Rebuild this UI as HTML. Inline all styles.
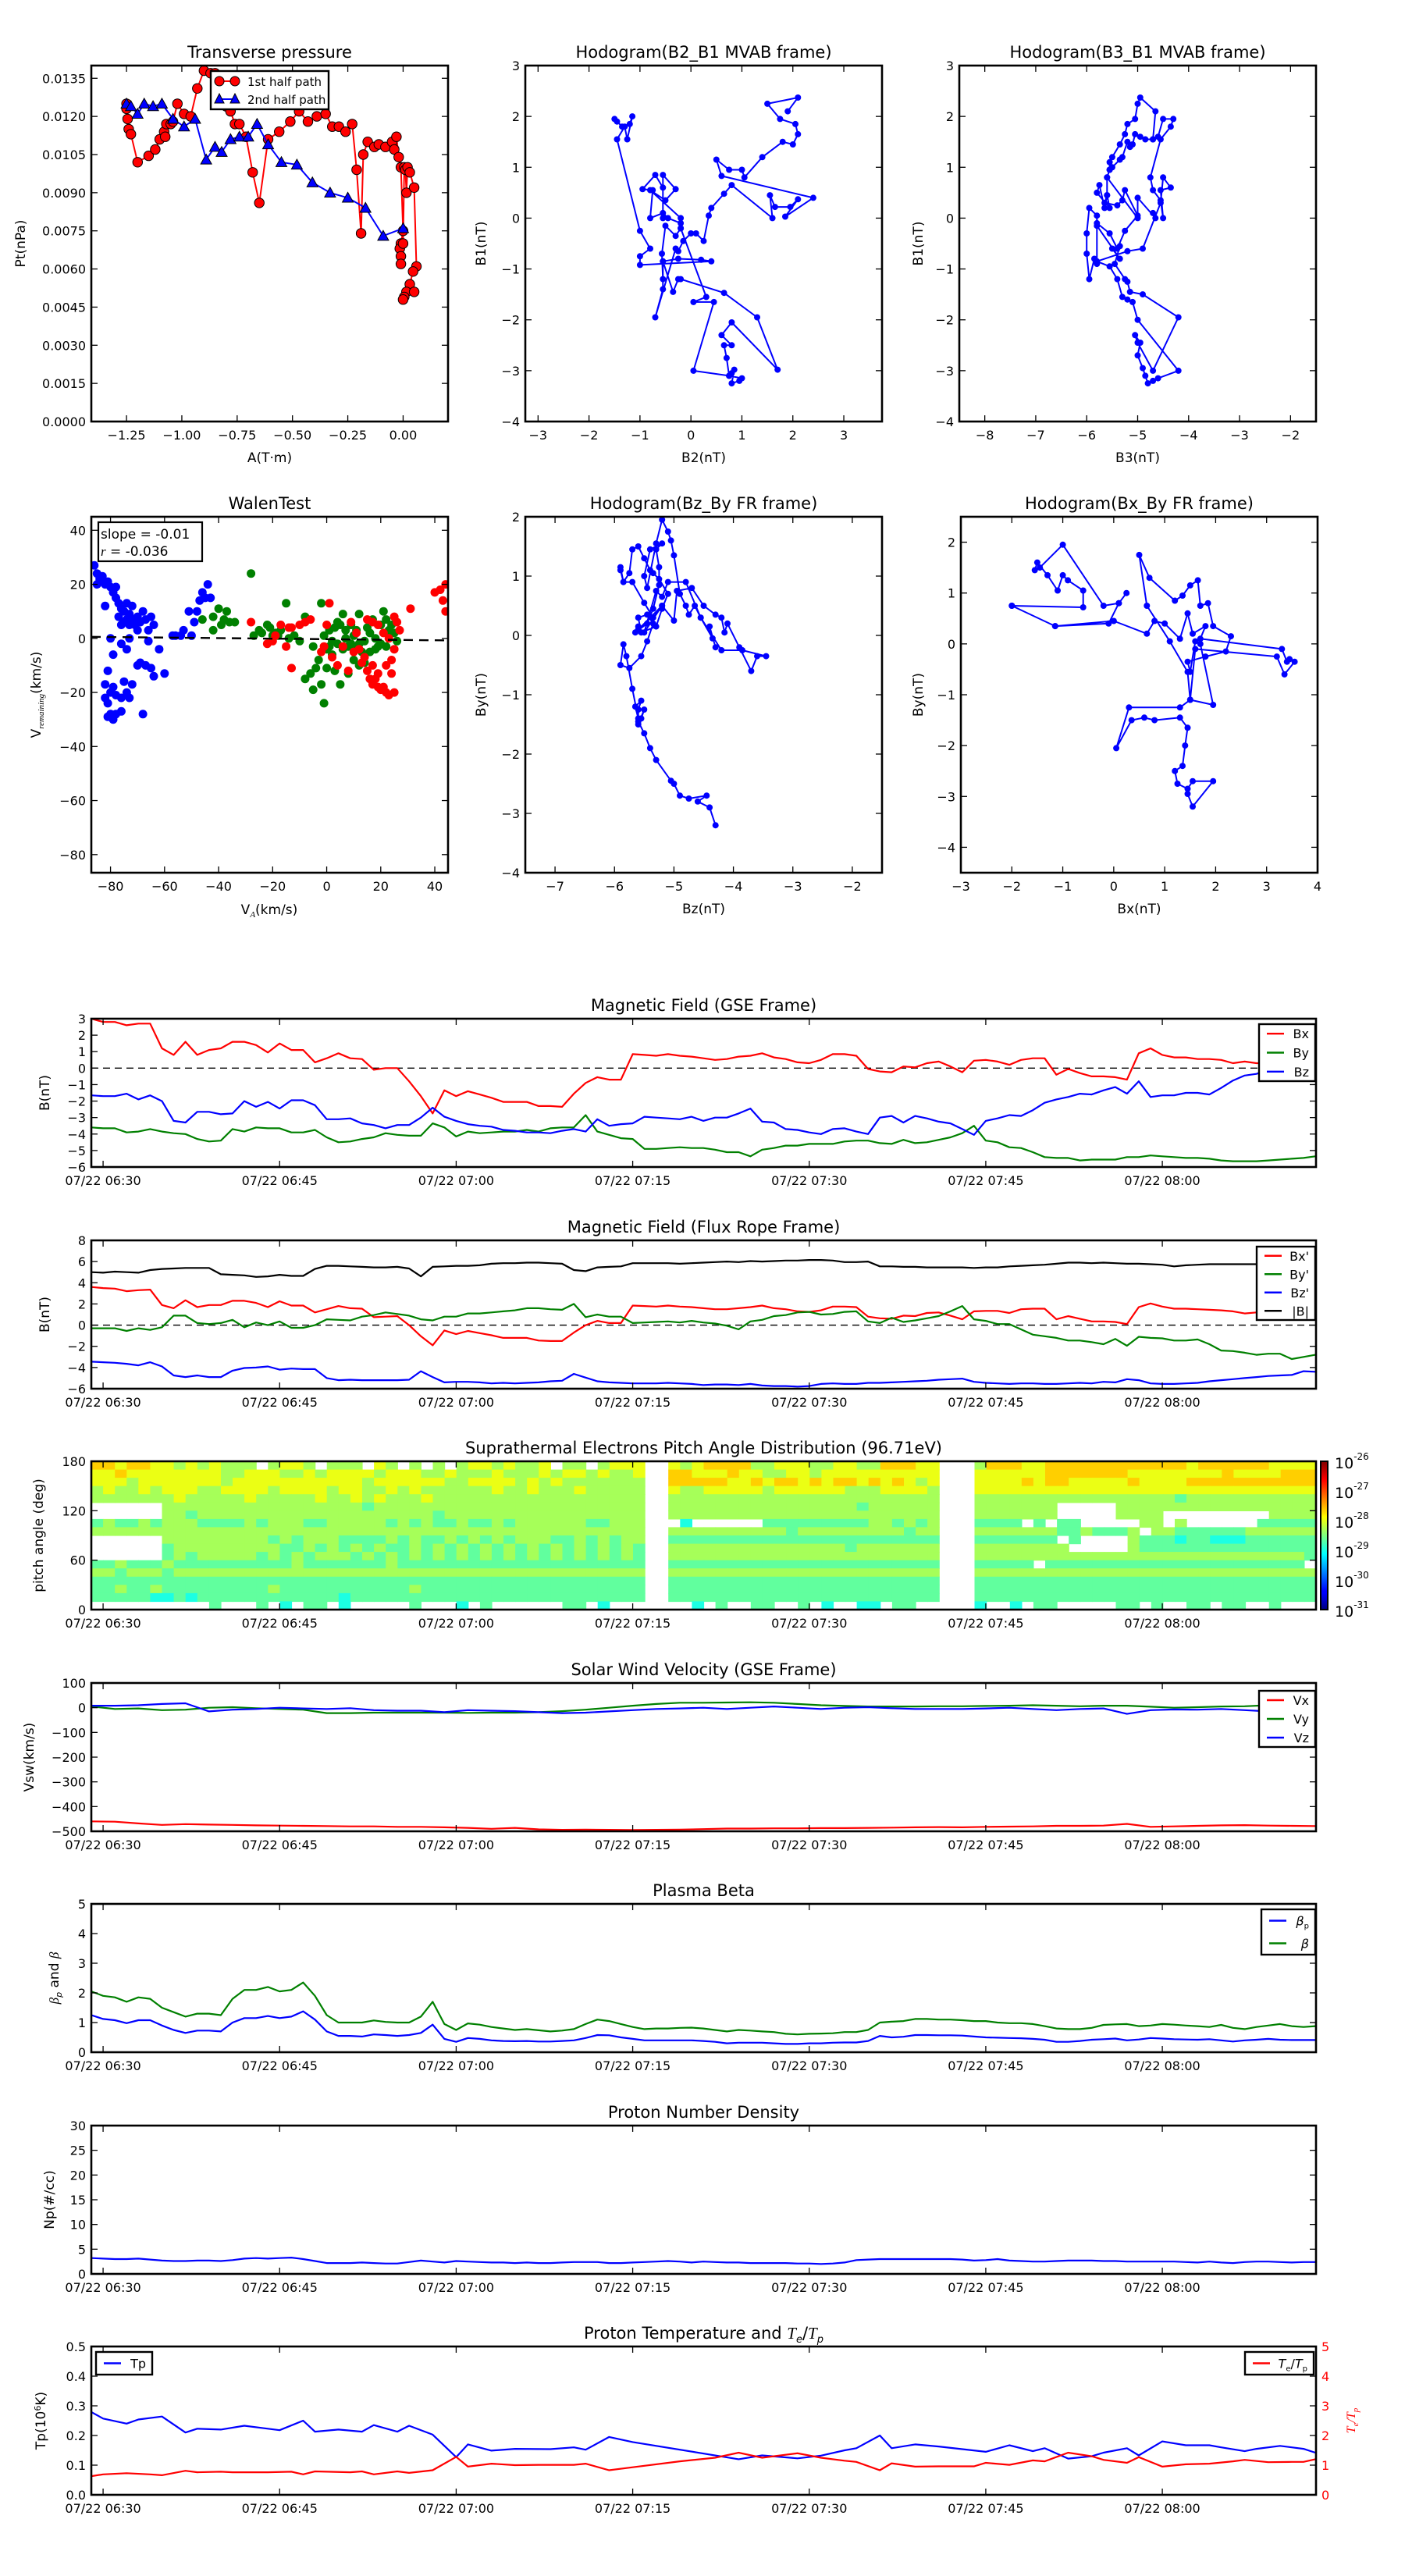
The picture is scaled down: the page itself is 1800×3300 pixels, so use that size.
<!DOCTYPE html>
<html><head><meta charset="utf-8">
<style>
html,body{margin:0;padding:0;background:#fff;}
svg{display:block;font-family:"DejaVu Sans","Liberation Sans",sans-serif;}
</style></head>
<body>
<svg id="fig" xmlns="http://www.w3.org/2000/svg" width="1800" height="3300" viewBox="0 0 1800 3300">
<rect x="0" y="0" width="1800" height="3300" fill="#fff"/>
<defs>
<linearGradient id="jet" x1="0" y1="1" x2="0" y2="0">
<stop offset="0" stop-color="#00007f"/><stop offset="0.11" stop-color="#0000ff"/><stop offset="0.125" stop-color="#0000ff"/>
<stop offset="0.34" stop-color="#00dcff"/><stop offset="0.375" stop-color="#00ffff"/><stop offset="0.5" stop-color="#80ff80"/>
<stop offset="0.625" stop-color="#ffff00"/><stop offset="0.66" stop-color="#ffd800"/><stop offset="0.875" stop-color="#ff0000"/><stop offset="1" stop-color="#7f0000"/>
</linearGradient>
</defs>
</svg>
<script>
// ---------------- DATA ----------------
// Transverse pressure
const tpA1=[-1.25,-1.25,-1.245,-1.24,-1.23,-1.20,-1.15,-1.12,-1.10,-1.08,-1.075,-1.07,-1.05,-1.04,-1.02,-0.99,-0.96,-0.93,-0.90,-0.87,-0.85,-0.80,-0.78,-0.76,-0.74,-0.71,-0.68,-0.65,-0.61,-0.56,-0.51,-0.47,-0.43,-0.39,-0.35,-0.32,-0.29,-0.26,-0.23,-0.21,-0.19,-0.18,-0.16,-0.13,-0.11,-0.08,-0.05,-0.04,-0.03,-0.02,-0.01,0.0,-0.01,-0.015,-0.01,-0.01,0.0,0.005,0.01,0.015,0.02,0.03,0.05,0.06,0.045,0.03,0.015,0.005,0.0,0.05];
const tpP1=[0.0125,0.0123,0.0119,0.0115,0.0113,0.0102,0.01045,0.0107,0.0111,0.0114,0.0112,0.0117,0.0117,0.0118,0.0125,0.0121,0.0120,0.0131,0.0138,0.0137,0.0137,0.0124,0.0122,0.0117,0.0117,0.0112,0.0098,0.0086,0.0111,0.0114,0.0118,0.0122,0.0118,0.0120,0.0121,0.0116,0.0116,0.0114,0.0117,0.0099,0.0074,0.0105,0.0110,0.0108,0.0109,0.0108,0.0110,0.0107,0.0112,0.0104,0.0100,0.0075,0.0070,0.0068,0.0065,0.0062,0.0070,0.0100,0.0099,0.0090,0.0100,0.0098,0.0092,0.0061,0.0059,0.0054,0.0051,0.0049,0.0048,0.0051];
const tpA2=[-1.25,-1.23,-1.20,-1.17,-1.13,-1.09,-1.04,-0.99,-0.94,-0.89,-0.85,-0.82,-0.78,-0.74,-0.70,-0.66,-0.61,-0.55,-0.48,-0.41,-0.33,-0.25,-0.17,-0.09,0.0];
const tpP2=[0.0125,0.0124,0.0121,0.0125,0.0124,0.0125,0.0119,0.0116,0.0119,0.0103,0.0108,0.0106,0.0111,0.0112,0.0112,0.0117,0.0109,0.0102,0.0101,0.0094,0.0090,0.0088,0.0084,0.0073,0.0076];
// Hodograms
const h1x=[-1.5,-1.45,-1.35,-1.2,-1.15,-1.25,-1.3,-1.45,-1.0,-0.8,-1.0,-1.0,0.4,0.2,-0.25,-0.55,-0.55,-0.57,-0.5,-0.3,-0.2,-0.2,-0.45,-0.55,-0.8,-0.75,-0.95,-0.7,-0.55,-0.55,-0.55,-0.3,-0.5,-0.8,-0.2,-0.2,0.3,0.05,0.45,0.05,0.75,0.8,0.85,0.8,0.95,1.0,0.75,0.7,0.65,0.8,0.6,0.8,1.7,1.3,0.65,-0.2,-0.25,-0.35,-0.55,-0.55,-0.7,-0.3,-0.25,-0.15,0.0,0.1,0.25,0.35,0.4,0.65,0.8,1.6,1.55,1.65,1.95,2.1,1.85,2.4,0.6,0.5,0.75,1.0,1.05,1.4,1.8,2.0,2.1,2.05,1.75,1.5,2.1,1.9];
const h1y=[1.95,1.9,1.8,1.85,2.0,1.55,1.8,1.55,-0.25,-0.6,-0.75,-0.92,-0.85,-0.82,-0.8,-0.85,-1.2,-0.7,-0.15,-0.35,-0.2,-0.1,0.0,0.1,0.0,0.55,0.57,0.85,0.6,0.0,0.85,0.57,0.35,0.55,0.0,-0.2,-1.55,-1.65,-1.65,-3.0,-3.1,-3.05,-2.98,-3.25,-3.2,-3.15,-3.1,-2.75,-2.5,-2.5,-2.3,-2.05,-2.98,-1.95,-1.47,-1.2,-1.2,-1.45,-0.85,-1.4,-1.95,-0.6,-0.65,-0.45,-0.3,-0.3,-0.45,0.05,0.2,0.48,0.65,0.0,0.45,0.22,0.22,0.37,0.03,0.4,0.83,1.15,0.95,0.95,0.8,1.2,1.5,1.45,1.65,1.85,1.95,2.25,2.37,2.1];
const h2x=[-4.7,-4.85,-4.95,-5.05,-5.1,-5.15,-5.2,-5.3,-5.35,-5.5,-5.55,-5.6,-5.6,-5.65,-5.75,-5.8,-5.55,-5.6,-5.65,-5.4,-5.3,-5.25,-5.0,-5.25,-5.4,-5.55,-5.8,-5.8,-5.95,-6.0,-6.0,-5.95,-5.85,-5.8,-5.8,-5.35,-5.5,-5.35,-5.45,-5.25,-5.2,-5.15,-4.9,-4.2,-4.7,-5.0,-5.05,-4.95,-5.0,-4.9,-4.85,-4.8,-4.7,-4.6,-4.2,-5.0,-5.1,-5.2,-5.3,-5.4,-5.55,-5.8,-5.2,-4.9,-4.55,-4.5,-4.35,-4.55,-4.5,-4.55,-4.7,-4.75,-4.55,-4.35,-4.3,-4.5,-4.6,-4.7,-4.65,-4.95,-5.0,-5.05,-5.2,-5.25,-5.35,-5.5,-5.55,-5.55,-5.6,-5.0,-5.0,-4.65,-4.7];
const h2y=[1.55,1.55,1.6,1.65,1.45,1.4,1.5,1.2,1.15,1.0,0.95,0.8,0.45,0.2,0.65,0.5,0.2,0.45,0.3,0.25,0.35,0.55,0.05,-0.25,-0.6,-0.3,-0.1,0.05,0.2,-0.3,-0.7,-1.2,-0.8,-0.9,-0.15,-0.8,-0.6,-0.55,-0.9,-1.2,-1.25,-1.45,-1.5,-1.95,-3.0,-2.45,-2.3,-2.45,-2.7,-2.95,-3.1,-3.25,-3.2,-3.15,-3.0,-2.0,-1.65,-1.6,-1.55,-1.2,-0.95,-0.85,-0.65,-0.6,0.3,0.8,0.6,0.55,0.0,0.35,0.55,0.8,1.55,1.8,1.95,1.95,1.6,1.55,2.1,2.37,2.25,1.95,1.85,1.65,1.45,1.2,1.1,0.95,0.8,0.0,0.4,0.0,0.1];
const h3x=[-4.3,-4.4,-4.6,-4.45,-4.75,-4.9,-5.0,-5.05,-5.3,-5.4,-5.5,-5.6,-5.55,-5.5,-5.6,-5.6,-5.55,-5.65,-5.6,-5.7,-5.8,-5.85,-5.9,-5.75,-5.55,-5.45,-5.35,-5.45,-5.6,-5.55,-5.3,-5.2,-5.1,-5.25,-5.35,-5.4,-5.5,-5.6,-5.7,-5.75,-5.85,-5.9,-5.9,-5.85,-5.7,-5.5,-5.35,-5.2,-5.0,-4.95,-4.7,-4.5,-4.3,-4.2,-4.15,-4.1,-3.9,-3.7,-3.6,-3.45,-3.85,-4.2,-4.55,-4.8,-5.1,-5.2,-5.3,-5.5,-5.2,-5.6,-5.6,-5.65,-5.45,-5.35,-5.25,-5.25,-5.3,-5.2,-5.4,-5.5,-5.45,-5.3,-5.2,-5.1,-5.05,-5.0,-4.9,-4.8,-4.75,-4.65,-4.55,-4.35,-4.4,-4.3];
const h3y=[-3.2,-2.9,-2.8,-2.7,-2.75,-2.7,-2.5,-2.45,-2.1,-1.9,-1.65,-1.45,-1.4,-1.25,-1.5,-1.25,-1.1,-1.2,-1.4,-0.9,-0.35,-0.15,-0.5,-0.55,-0.35,-0.1,0.2,0.35,0.3,0.05,0.15,0.45,0.7,0.95,1.05,1.1,1.3,1.5,1.45,1.05,0.9,1.1,1.15,0.9,0.9,0.55,0.3,0.5,0.25,0.75,0.8,0.5,0.35,0.3,0.05,0.2,-0.2,-0.6,-0.35,-0.35,-0.25,-0.25,0.3,0.9,0.9,0.65,0.75,0.05,0.5,0.1,0.15,0.05,0.2,0.45,0.85,1.15,1.45,1.55,1.45,1.0,0.8,1.55,1.95,1.75,1.6,1.35,0.7,0.5,0.35,0.5,0.3,-0.05,0.15,-0.2];
const h4x=[-2.0,-0.6,-0.6,-0.9,-1.0,-1.1,-1.3,-1.5,-1.55,-1.45,-1.0,-0.2,0.1,0.25,0.1,-0.1,-1.15,-2.0,-1.15,0.0,0.65,0.8,1.0,1.3,1.45,1.55,1.8,1.7,3.3,3.4,3.45,3.55,3.35,3.2,1.6,1.5,1.45,1.1,0.65,0.5,0.7,1.2,1.35,1.5,1.65,1.7,1.85,1.95,2.3,2.2,1.8,1.45,1.5,1.6,1.7,1.95,1.5,1.3,0.3,0.05,0.35,0.6,0.8,1.3,1.45,1.4,1.35,1.2,1.25,1.45,1.55,1.95,1.55,1.45];
const h4y=[0.75,0.72,1.05,1.25,1.35,1.05,1.35,1.6,1.45,1.5,1.95,0.75,0.8,1.0,0.8,0.4,0.35,0.75,0.35,0.45,0.2,0.45,0.4,0.1,0.6,0.2,0.35,0.1,-0.1,-0.35,-0.3,-0.35,-0.6,-0.25,-0.1,-1.1,-0.55,0.05,0.75,1.75,1.3,0.85,0.95,1.15,1.25,0.75,0.8,0.35,0.15,-0.15,-0.25,-0.35,-0.55,0.05,0.0,-1.2,-1.1,-1.25,-1.25,-2.05,-1.5,-1.45,-1.5,-1.45,-1.65,-2.0,-2.4,-2.5,-2.75,-2.85,-2.7,-2.7,-3.2,-2.95];
// Walen test
const wBx=[-86,-85,-85,-84,-83,-82,-82,-81,-80,-79,-78,-78,-77,-77,-76,-76,-75,-75,-74,-74,-73,-73,-72,-72,-71,-70,-70,-69,-68,-67,-66,-65,-64,-80,-76,-73,-74,-79,-81,-82,-80,-79,-82,-78,-76,-81,-80,-78,-81,-79,-76,-73,-75,-72,-70,-69,-67,-65,-64,-62,-60,-68,-56,-53,-50,-51,-48,-49,-47,-46,-44,-45,-43,-54,-66,-74,-57];
const wBy=[27,24,20,22,23,12,20,21,19,17,15,19,13,8,11,5,10,6,7,13,9,5,7,12,5,8,3,6,10,7,3,8,5,0,-2,0,-4,-6,-12,-17,-20,-18,-22,-21,-22,-24,-28,-28,-29,-30,-27,-22,-16,-17,-10,-9,-10,-11,-14,-4,-13,-28,1,3,1,10,10,6,14,17,20,15,15,1,-1,-20,1];
const wGx=[-28,-40,-42,-39,-38,-36,-42,-34,-27,-25,-24,-22,-21,-20,-18,-15,-17,-14,-12,-10,-8,-5,-2,0,1,2,3,4,5,6,7,8,9,10,11,12,13,14,12,15,16,18,19,20,21,22,23,24,25,26,-6,-4,-2,0,-8,-5,-1,5,8,10,12,14,3,16,18,2,-3,6,20,22,-1,1,4,7,11,17,9,-46,-37,-19];
const wGy=[24,11,8,5,7,6,3,6,1,3,2,5,4,1,1,13,3,0,1,-1,8,-3,13,-4,3,-1,4,-2,5,9,0,-3,5,1,3,-2,-5,-1,9,4,2,0,-3,5,10,7,3,5,2,-1,-13,-11,-17,-11,-15,-19,-24,-17,-13,-8,-10,-9,-12,-5,-4,-6,-8,-4,-2,-3,1,-3,6,3,-4,7,-2,7,10,2];
const wRx=[-28,-22,-20,-19,-17,-15,-13,-8,-6,0,1,-13,2,4,6,8,10,13,15,16,17,18,19,20,21,22,23,25,24,24,25,23,21,19,17,15,26,27,25,31,40,42,43,44,44,22,19,17,14,12,11,9,-10,-14,-2,-1];
const wRy=[6,-2,-1,1,5,-3,4,6,7,5,13,-11,-7,-10,-3,-12,-5,-9,-12,-15,-17,-15,-18,-19,-18,-20,-21,-20,-13,-8,-4,0,2,5,6,7,6,3,8,11,17,18,14,20,10,-10,-13,-10,-7,-4,2,6,5,4,-5,-3];
const walenSlope=-0.01, walenIcpt=-0.3;
// Time series (1-min cadence, first sample at t=-1 min from 06:30)
const timeTicks=[0,15,30,45,60,75,90];
const timeLabels=['07/22 06:30','07/22 06:45','07/22 07:00','07/22 07:15','07/22 07:30','07/22 07:45','07/22 08:00'];
const gseBx=[3.0,2.8,2.8,2.6,2.7,2.7,1.2,0.8,1.6,0.8,1.1,1.2,1.6,1.6,1.4,0.95,1.5,1.1,1.1,0.35,0.6,0.9,0.6,0.55,-0.1,0.0,0.0,-0.8,-1.7,-2.75,-1.35,-1.7,-1.4,-1.6,-1.8,-2.05,-2.05,-2.05,-2.3,-2.3,-2.35,-1.55,-0.9,-0.55,-0.7,-0.7,0.85,0.8,0.75,0.85,0.75,0.7,0.6,0.5,0.55,0.7,0.75,0.9,0.65,0.55,0.35,0.3,0.5,0.85,0.85,0.75,-0.05,-0.2,-0.25,0.1,0.05,0.3,0.4,0.1,-0.25,0.45,0.5,0.4,0.2,0.5,0.6,0.6,-0.4,-0.05,-0.3,-0.5,-0.5,-0.55,-0.7,0.9,1.2,0.8,0.65,0.65,0.55,0.55,0.5,0.3,0.4,0.3,0.3,0.5,0.7,0.8,0.8];
const gseBy=[-3.6,-3.65,-3.65,-3.9,-3.85,-3.7,-3.85,-3.95,-4.0,-4.3,-4.45,-4.4,-3.7,-3.85,-3.6,-3.65,-3.65,-3.9,-3.9,-3.75,-4.2,-4.5,-4.45,-4.3,-4.2,-3.95,-4.05,-4.1,-4.1,-3.35,-3.6,-4.15,-3.85,-3.95,-3.9,-3.85,-3.85,-3.75,-3.85,-3.65,-3.6,-3.6,-2.85,-3.85,-4.05,-4.25,-4.3,-4.9,-4.9,-4.85,-4.8,-4.85,-4.85,-4.95,-5.1,-5.1,-5.35,-4.95,-4.85,-4.7,-4.7,-4.6,-4.6,-4.6,-4.45,-4.4,-4.4,-4.55,-4.6,-4.35,-4.55,-4.5,-4.35,-4.2,-3.95,-3.5,-4.4,-4.5,-4.8,-4.85,-5.1,-5.4,-5.45,-5.45,-5.6,-5.55,-5.55,-5.55,-5.4,-5.4,-5.3,-5.35,-5.4,-5.45,-5.45,-5.5,-5.6,-5.65,-5.65,-5.65,-5.6,-5.55,-5.5,-5.45,-5.35];
const gseBz=[-1.65,-1.7,-1.7,-1.55,-1.9,-1.65,-2.0,-3.2,-3.3,-2.65,-2.65,-2.8,-2.75,-2.0,-2.35,-2.05,-2.45,-1.95,-1.95,-2.25,-3.1,-3.1,-3.05,-3.35,-3.45,-3.65,-3.45,-3.45,-3.0,-2.4,-2.95,-3.2,-3.4,-3.5,-3.55,-3.75,-3.8,-3.9,-3.9,-3.95,-3.8,-3.7,-3.85,-3.1,-3.5,-3.4,-3.35,-2.95,-3.0,-3.05,-3.1,-2.95,-3.2,-3.0,-3.0,-2.75,-2.45,-3.25,-3.3,-3.7,-3.75,-3.9,-4.0,-3.7,-3.65,-3.85,-4.0,-3.0,-2.9,-3.3,-2.9,-3.05,-3.25,-3.35,-3.7,-4.05,-3.2,-3.05,-2.85,-2.9,-2.55,-2.1,-1.9,-1.75,-1.55,-1.6,-1.35,-1.15,-1.55,-0.8,-1.75,-1.65,-1.65,-1.5,-1.5,-1.6,-1.2,-0.75,-0.45,-0.35,-0.1,0.0,0.1,0.2,0.3];
const frBx=[3.6,3.5,3.45,3.2,3.3,3.35,1.9,1.6,2.35,1.7,1.9,1.9,2.3,2.3,2.1,1.7,2.25,1.85,1.85,1.2,1.5,1.8,1.6,1.55,0.75,0.8,0.85,0.0,-1.05,-1.9,-0.5,-0.85,-0.55,-0.75,-0.95,-1.2,-1.2,-1.2,-1.45,-1.5,-1.5,-0.7,0.0,0.4,0.2,0.2,1.85,1.8,1.75,1.85,1.75,1.7,1.6,1.5,1.5,1.6,1.7,1.85,1.6,1.5,1.3,1.25,1.4,1.75,1.75,1.7,0.8,0.65,0.6,0.9,0.85,1.15,1.2,0.9,0.55,1.3,1.35,1.35,1.15,1.5,1.55,1.55,0.55,0.85,0.6,0.35,0.35,0.3,0.1,1.7,2.05,1.75,1.55,1.55,1.5,1.45,1.4,1.3,1.1,1.2,1.3,1.5,1.5,1.55,1.6];
const frBy=[-0.3,-0.3,-0.3,-0.55,-0.3,-0.45,-0.2,0.9,0.9,0.2,0.1,0.2,0.5,-0.2,0.25,0.0,0.35,-0.25,-0.25,0.0,0.55,0.5,0.45,0.8,0.95,1.2,1.05,0.9,0.55,0.45,0.8,0.8,1.1,1.1,1.2,1.3,1.4,1.6,1.6,1.5,1.45,2.0,0.75,1.0,0.8,0.8,0.2,0.25,0.3,0.35,0.25,0.4,0.25,0.15,-0.05,-0.4,0.35,0.5,0.85,0.95,1.2,1.25,1.0,1.05,1.25,1.3,0.35,0.2,0.7,0.3,0.45,0.65,0.85,1.3,1.8,0.55,0.4,0.1,0.1,-0.4,-0.9,-1.05,-1.2,-1.45,-1.45,-1.6,-1.8,-1.3,-1.95,-1.1,-1.2,-1.25,-1.45,-1.45,-1.35,-1.8,-2.4,-2.45,-2.6,-2.8,-2.7,-2.7,-3.2,-3.0,-2.8];
const frBz=[-3.45,-3.5,-3.55,-3.65,-3.8,-3.5,-3.9,-4.75,-4.9,-4.75,-4.9,-4.9,-4.3,-4.05,-4.0,-3.9,-4.2,-4.1,-4.15,-4.15,-5.0,-5.2,-5.15,-5.2,-5.2,-5.2,-5.2,-5.15,-4.35,-4.9,-5.4,-5.35,-5.35,-5.4,-5.5,-5.45,-5.5,-5.45,-5.4,-5.3,-5.25,-4.6,-4.95,-5.3,-5.4,-5.45,-5.5,-5.5,-5.5,-5.45,-5.5,-5.55,-5.65,-5.6,-5.6,-5.65,-5.55,-5.7,-5.75,-5.75,-5.8,-5.75,-5.55,-5.5,-5.55,-5.55,-5.45,-5.45,-5.4,-5.35,-5.3,-5.25,-5.15,-5.1,-5.05,-5.35,-5.45,-5.5,-5.55,-5.5,-5.5,-5.55,-5.55,-5.5,-5.45,-5.5,-5.35,-5.4,-5.1,-5.2,-5.5,-5.55,-5.55,-5.5,-5.45,-5.3,-5.2,-5.1,-5.0,-4.9,-4.8,-4.75,-4.7,-4.35,-4.4];
const frBt=[5.0,4.95,5.05,5.0,4.95,5.2,5.3,5.35,5.4,5.4,5.4,4.8,4.75,4.7,4.55,4.6,4.75,4.65,4.65,5.3,5.6,5.6,5.55,5.5,5.45,5.45,5.5,5.35,4.6,5.5,5.55,5.6,5.6,5.65,5.8,5.85,5.85,5.9,5.9,5.85,5.8,5.2,5.1,5.45,5.5,5.55,5.85,5.85,5.85,5.85,5.8,5.85,5.9,5.95,6.0,5.95,6.05,6.0,6.05,6.1,6.1,6.15,6.15,6.1,5.95,5.95,6.0,5.55,5.55,5.5,5.5,5.45,5.45,5.45,5.45,5.4,5.45,5.45,5.55,5.6,5.65,5.7,5.8,5.9,5.9,5.85,5.9,5.85,5.8,5.8,5.75,5.7,5.55,5.65,5.7,5.75,5.75,5.75,5.75,5.75,5.75,5.75,5.75,5.75,5.7,5.65,5.55];
// Solar wind velocity (2-min cadence from t=-1)
const vx=[-460,-461,-468,-474,-471,-473,-474,-476,-477,-478,-479,-480,-480,-482,-482,-484,-486,-490,-486,-492,-494,-493,-494,-495,-494,-493,-491,-489,-489,-488,-488,-487,-487,-486,-485,-484,-483,-484,-482,-481,-480,-478,-478,-477,-470,-482,-480,-478,-476,-475,-477,-478,-479];
const vy=[5,-5,-3,-10,-8,0,2,-2,-5,-8,-22,-22,-20,-20,-20,-20,-21,-20,-20,-18,-14,-8,0,8,15,20,20,21,22,20,15,10,7,5,5,5,6,6,7,8,10,8,6,8,8,4,0,2,5,6,10,12,-5];
const vz=[8,8,10,15,18,-15,-8,-5,0,-3,-5,-2,-10,-12,-12,-18,-10,-12,-14,-18,-22,-20,-15,-10,-5,-3,0,-5,0,5,0,-5,0,2,-2,-5,-5,-5,-3,0,-5,-10,-5,-3,-25,-10,-7,-8,-5,-10,-15,-10,-15];
// Plasma beta (1-min)
const betaTot=[2.05,1.9,1.85,1.7,1.85,1.8,1.5,1.35,1.2,1.3,1.3,1.25,1.8,2.1,2.1,2.2,2.05,2.1,2.35,1.9,1.25,1.0,1.0,1.0,1.07,1.02,1.0,1.0,1.2,1.7,0.95,0.75,0.97,0.93,0.85,0.8,0.75,0.78,0.74,0.7,0.73,0.78,0.95,1.1,1.05,0.95,0.85,0.78,0.8,0.8,0.82,0.83,0.8,0.75,0.7,0.75,0.73,0.7,0.68,0.62,0.6,0.62,0.63,0.64,0.68,0.68,0.75,1.0,1.03,1.05,1.12,1.12,1.1,1.1,1.08,1.05,1.05,1.0,0.98,0.98,0.95,0.88,0.8,0.78,0.78,0.82,0.92,0.94,0.95,0.88,0.9,0.95,0.93,0.9,0.88,0.85,0.92,0.82,0.78,0.85,0.9,0.95,0.88,0.85,0.88];
const betaP=[1.25,1.12,1.08,0.98,1.08,1.08,0.9,0.75,0.65,0.73,0.73,0.7,1.0,1.15,1.15,1.22,1.15,1.2,1.38,1.1,0.7,0.55,0.55,0.53,0.6,0.58,0.55,0.58,0.65,0.93,0.45,0.35,0.48,0.45,0.4,0.38,0.37,0.38,0.36,0.36,0.38,0.4,0.48,0.58,0.57,0.5,0.45,0.4,0.4,0.4,0.4,0.4,0.38,0.35,0.3,0.32,0.32,0.32,0.3,0.28,0.28,0.3,0.3,0.32,0.33,0.33,0.38,0.55,0.5,0.52,0.58,0.58,0.57,0.57,0.56,0.53,0.5,0.49,0.48,0.47,0.45,0.42,0.35,0.35,0.38,0.42,0.44,0.46,0.4,0.43,0.48,0.46,0.44,0.43,0.42,0.44,0.4,0.36,0.4,0.42,0.45,0.42,0.41,0.41,0.41];
const np=[3.2,3.1,3.0,3.0,3.1,2.9,2.7,2.6,2.6,2.7,2.7,2.6,2.8,3.1,3.2,3.1,3.2,3.3,3.0,2.6,2.2,2.2,2.2,2.3,2.2,2.1,2.1,2.4,2.7,2.5,2.3,2.6,2.5,2.4,2.3,2.3,2.2,2.3,2.2,2.2,2.3,2.4,2.4,2.4,2.2,2.2,2.3,2.4,2.5,2.6,2.5,2.3,2.5,2.4,2.3,2.3,2.2,2.2,2.2,2.2,2.1,2.1,2.0,2.1,2.3,2.8,2.9,3.0,3.0,3.0,3.0,3.0,3.0,3.0,2.9,2.7,2.8,3.0,2.7,2.6,2.5,2.5,2.6,2.7,2.7,2.7,2.6,2.6,2.5,2.5,2.5,2.5,2.5,2.4,2.3,2.5,2.3,2.2,2.4,2.5,2.5,2.4,2.3,2.4,2.4];
// Proton temperature (times in minutes after 06:30)
const tpTime=[-1,0,2,3,5,7,8,10,12,14,15,17,18,20,22,23,25,26,28,30,31,33,35,38,40,41,43,45,54,56,59,61,63,64,66,67,69,71,75,77,79,80,82,84,85,87,88,90,92,94,95,97,98,100,102,103];
const tpVal=[0.279,0.257,0.24,0.254,0.264,0.21,0.223,0.22,0.233,0.223,0.218,0.25,0.213,0.22,0.213,0.235,0.213,0.233,0.203,0.127,0.17,0.149,0.155,0.154,0.16,0.152,0.195,0.178,0.12,0.133,0.123,0.132,0.15,0.157,0.2,0.157,0.17,0.163,0.145,0.167,0.147,0.157,0.122,0.13,0.142,0.157,0.133,0.18,0.167,0.167,0.16,0.147,0.155,0.165,0.155,0.142];
const teTime=[-1,0,2,4,5,7,8,10,11,14,16,17,18,21,22,23,25,26,28,30,31,33,35,37,40,41,43,45,49,52,54,56,59,61,63,64,66,67,69,71,74,75,77,79,80,82,84,85,87,88,90,92,94,96,97,99,101,102,103];
const teVal=[0.63,0.69,0.73,0.69,0.66,0.81,0.76,0.78,0.76,0.76,0.78,0.69,0.79,0.76,0.79,0.69,0.79,0.74,0.83,1.28,0.95,1.05,1.0,1.01,1.01,1.05,0.83,0.93,1.13,1.25,1.42,1.25,1.4,1.25,1.15,1.11,0.83,1.06,0.95,0.96,0.96,1.08,1.01,1.16,1.13,1.42,1.3,1.18,1.08,1.27,0.95,1.03,1.05,1.13,1.18,1.1,1.11,1.11,1.2];
// PAD levels per pitch-angle bin (top row 170-180 first); digit = colour level 0..9, space = no data; three data segments
const padRows=[
["77677665656555 5665 555 65 5 5 56656556 55 5666","65677775566655665577766","57776677777777777767777776666"],
["66766666666556665565666656665565556555656656556","77666766556656666666666","66666677777776666666676666777"],
["66656666666566666666666566666655666656565555555","77777667677676776767656","66667677666667666677777777777"],
["56556566655666656666566556565555556556555655555","65566666566666655566665","66666666666666666666666666666"],
["55555556555556555556556565556555555555555555555","55555555555555555555555","55555555555555555455555555555"],
["      55555555555555555455555555555555555555555","55555555555555554555555","5555555     55555555555555555"],
["      55455555555555555555555455555555555555555","55555555555555555555555","5555555     5555         5555"],
["45445455544445455544555554545445445455555544555"," 3      444444444554545","4444 4 44     55 5      44444"],
["55555555555555555555555555555555555555555555555","55555555554555555555455","55555554454445 55444444555555"],
["      55555555545455544445454454545455544545455","44444444444444444444444","4444444 4    5444344333444444"],
["      45555555554454545454454545454545454545454","55555555555555545555555","55555555     54444444444444444"],
["      45455555454545554545454545454545454545454","55555555555555555555555","55555555555555555555555555554"],
["44544454444444444544444445444444444444444444444","44444444444444444444444","44444 4444444444444444444444"],
["55455545555555555555555555555555555555555555555","55555555555555555555555","55555555555555555555555555555"],
["44444444444444444444444444444444444444444444444","44444444444444444444444","44444444444444444444444444444"],
["44544544444444454444444444454444444444444444444","44444444444444444444444","44444444444444444444444444444"],
["44444334344444444444434444444444444444444444444","44444444444444444444444","44444444444444444444444444444"],
["          4   4 3 44 3     4   3 4      44 3   ","  3 4  44  4 3  33 44  ","3  3 44     44 4  44 44  4   "]
];
const padSegCols=[47,23,29], padGapCols=[2,3];
const cbLabels=['-26','-27','-28','-29','-30','-31'];

// ---------------- DRAWING ----------------
const NS='http://www.w3.org/2000/svg';
const svg=document.getElementById('fig');
let clipN=0;
function mk(tag,attrs,parent){const e=document.createElementNS(NS,tag);for(const k in attrs)e.setAttribute(k,attrs[k]);(parent||svg).appendChild(e);return e;}
function txt(x,y,s,size,anchor,parent,extra){const e=mk('text',Object.assign({x:x,y:y,'font-size':size,'text-anchor':anchor||'middle',fill:'#000'},extra||{}),parent);e.textContent=s;return e;}
function fmtNum(v,d){const s=Math.abs(v).toFixed(d);return (v<-1e-12?'\u2212':'')+s;}

function makeAxes(o){
  const g=mk('g',{});
  
  
  const sx=v=>o.x+(v-o.xmin)/(o.xmax-o.xmin)*o.w;
  const sy=v=>o.y+o.h-(v-o.ymin)/(o.ymax-o.ymin)*o.h;
  const cid='clip'+(clipN++);
  const cp=mk('clipPath',{id:cid},g);mk('rect',{x:o.x,y:o.y,width:o.w,height:o.h},cp);
  const plot=mk('g',{'clip-path':'url(#'+cid+')'},g);
  
  
  const tk=mk('g',{stroke:'#000','stroke-width':1.3},g);
  
  
  const xl=mk('g',{},g);
  
  
  o.xticks.forEach((v,i)=>{const X=sx(v);
    mk('line',{x1:X,y1:o.y+o.h,x2:X,y2:o.y+o.h-8},tk);mk('line',{x1:X,y1:o.y,x2:X,y2:o.y+8},tk);
    const t=txt(X,o.y+o.h+23,o.xlabels[i],16,'middle',xl);
    
    });
  const yl=mk('g',{},g);
  
  
  o.yticks.forEach((v,i)=>{const Y=sy(v);
    mk('line',{x1:o.x,y1:Y,x2:o.x+8,y2:Y},tk);
    if(!o.noRightTicks) mk('line',{x1:o.x+o.w,y1:Y,x2:o.x+o.w-8,y2:Y},tk);
    const t=txt(o.x-7,Y+6,o.ylabels[i],16,'end',yl);
    
    });
  const fr=mk('rect',{x:o.x,y:o.y,width:o.w,height:o.h,fill:'none',stroke:'#000','stroke-width':2.6},g);
  
  
  if(o.title){const t=txt(o.x+o.w/2,o.y-10,'',21,'middle',g);
    
    
    if(typeof o.title==='string')t.textContent=o.title;else o.title(t);}
  if(o.xlab){const t=txt(o.x+o.w/2,o.y+o.h+52,o.xlab,17,'middle',g);
    
    }
  if(o.ylab){const t=txt(0,0,'',17,'middle',g,{transform:'translate('+o.ylabX+','+(o.y+o.h/2)+') rotate(-90)'});
    
    
    if(typeof o.ylab==='string')t.textContent=o.ylab;else o.ylab(t);}
  return {sx,sy,plot,g,o};
}
function poly(ax,xs,ys,color,name,w){
  const pts=xs.map((x,i)=>ax.sx(x).toFixed(1)+','+ax.sy(ys[i]).toFixed(1)).join(' ');
  const p=mk('polyline',{points:pts,fill:'none',stroke:color,'stroke-width':w||2.2,'stroke-linejoin':'round'},ax.plot);
  
  
  return p;
}
function dots(ax,xs,ys,color,r,name,stroke){
  const g=mk('g',{},ax.plot);
  
  
  xs.forEach((x,i)=>{const c=mk('circle',{cx:ax.sx(x).toFixed(1),cy:ax.sy(ys[i]).toFixed(1),r:r,fill:color,stroke:stroke||'none','stroke-width':1},g);
    
    });
  return g;
}
function tris(ax,xs,ys,color,s,name){
  const g=mk('g',{},ax.plot);
  
  
  xs.forEach((x,i)=>{const X=ax.sx(x),Y=ax.sy(ys[i]);
    const p=mk('polygon',{points:X+','+(Y-s)+' '+(X-s)+','+(Y+s*0.8)+' '+(X+s)+','+(Y+s*0.8),fill:color,stroke:'#000','stroke-width':1},g);
    
    });
}
function range(a,b,s){const r=[];for(let v=a;v<=b+1e-9;v+=s)r.push(+v.toFixed(6));return r;}
function idxTime(n,step){const t=[];for(let i=0;i<n;i++)t.push(-1+i*(step||1));return t;}
function legend(x,y,w,h,entries,name,parent){
  const g=mk('g',{},parent||svg);
  
  
  mk('rect',{x:x,y:y,width:w,height:h,fill:'#fff',stroke:'#000','stroke-width':2.4},g);
  const dy=h/entries.length;
  entries.forEach((e,i)=>{const Y=y+dy*(i+0.5);
    const l=mk('line',{x1:x+10,y1:Y,x2:x+32,y2:Y,stroke:e.c,'stroke-width':2.4},g);
    
    
    const t=txt(x+w-8,Y+6,'',16,'end',g);
    
    
    if(typeof e.t==='string')t.textContent=e.t;else e.t(t);});
}
function tspan(t,s,attrs){const e=mk('tspan',attrs||{},t);e.textContent=s;return e;}

// ---- Transverse pressure ----
{const ax=makeAxes({name:'transverse-pressure-chart',x:117,y:84,w:457,h:456,xmin:-1.409,xmax:0.203,ymin:0,ymax:0.0140,
  xticks:[-1.25,-1,-0.75,-0.5,-0.25,0],xlabels:[-1.25,-1,-0.75,-0.5,-0.25,0].map(v=>fmtNum(v,2)),
  yticks:range(0,0.0135,0.0015),ylabels:range(0,0.0135,0.0015).map(v=>v.toFixed(4)),
  title:'Transverse pressure',xlab:'A(T\u00b7m)',ylab:'Pt(nPa)',ylabX:32});
 poly(ax,tpA1,tpP1,'#ff0000','first-half-path-line',2);
 dots(ax,tpA1,tpP1,'#ff0000',6.2,'first-half-path-markers','#000');
 poly(ax,tpA2,tpP2,'#0000ff','second-half-path-line',2);
 tris(ax,tpA2,tpP2,'#0000ff',7,'second-half-path-markers');
 const g=mk('g',{});
 
 
 mk('rect',{x:270,y:91,width:151,height:49,fill:'#fff',stroke:'#000','stroke-width':2.4},g);
 mk('line',{x1:280,y1:104,x2:301,y2:104,stroke:'#ff0000','stroke-width':2},g);
 mk('circle',{cx:281,cy:104,r:6,fill:'#f00',stroke:'#000'},g);mk('circle',{cx:301,cy:104,r:6,fill:'#f00',stroke:'#000'},g);
 mk('line',{x1:280,y1:127,x2:301,y2:127,stroke:'#0000ff','stroke-width':2},g);
 mk('polygon',{points:'281,120 275,132 287,132',fill:'#00f',stroke:'#000'},g);mk('polygon',{points:'301,120 295,132 307,132',fill:'#00f',stroke:'#000'},g);
 const l1=txt(317,110,'1st half path',15,'start',g);
 
 
 const l2=txt(317,133,'2nd half path',15,'start',g);
 
 
}
// ---- Hodograms ----
function hodo(name,x,y,xmin,xmax,ymin,ymax,xt,yt,title,xlab,ylab,ylabX,hx,hy){
  const ax=makeAxes({name:name,x:x,y:y,w:457,h:456,xmin,xmax,ymin,ymax,xticks:xt,xlabels:xt.map(v=>fmtNum(v,0)),
    yticks:yt,ylabels:yt.map(v=>fmtNum(v,0)),title,xlab,ylab,ylabX});
  poly(ax,hx,hy,'#0000ff',name+'-path',2);
  dots(ax,hx,hy,'#0000ff',4,name+'-samples');
}
hodo('hodogram-b2-b1',673,84,-3.25,3.75,-4,3,range(-3,3,1),range(-4,3,1),'Hodogram(B2_B1 MVAB frame)','B2(nT)','B1(nT)',622,h1x,h1y);
hodo('hodogram-b3-b1',1229,84,-8.5,-1.5,-4,3,range(-8,-2,1),range(-4,3,1),'Hodogram(B3_B1 MVAB frame)','B3(nT)','B1(nT)',1182,h2x,h2y);
hodo('hodogram-bz-by',673,662,-7.5,-1.5,-4,2,range(-7,-2,1),range(-4,2,1),'Hodogram(Bz_By FR frame)','Bz(nT)','By(nT)',622,h3x,h3y);
hodo('hodogram-bx-by',1231,662,-3,4,-4.5,2.5,range(-3,4,1),range(-4,2,1),'Hodogram(Bx_By FR frame)','Bx(nT)','By(nT)',1182,h4x,h4y);
// ---- Walen test ----
{const ax=makeAxes({name:'walen-test-chart',x:117,y:662,w:457,h:456,xmin:-87.1,xmax:44.9,ymin:-86.7,ymax:45,
  xticks:range(-80,40,20),xlabels:range(-80,40,20).map(v=>fmtNum(v,0)),yticks:range(-80,40,20),ylabels:range(-80,40,20).map(v=>fmtNum(v,0)),
  title:'WalenTest',ylabX:52,
  xlab:' ',ylab:t=>{tspan(t,'V');tspan(t,'remaining',{'font-size':11,'font-style':'italic','font-family':'Liberation Serif, serif',dy:4});tspan(t,'(km/s)',{dy:-4});}});
 dots(ax,wBx,wBy,'#0000ff',5.5,'walen-series-blue');
 dots(ax,wGx,wGy,'#008000',5.5,'walen-series-green');
 dots(ax,wRx,wRy,'#ff0000',5.5,'walen-series-red');
 const fl=mk('line',{x1:ax.sx(-87.1),y1:ax.sy(walenSlope*-87.1+walenIcpt),x2:ax.sx(44.9),y2:ax.sy(walenSlope*44.9+walenIcpt),stroke:'#000','stroke-width':2.4,'stroke-dasharray':'12,8'},ax.plot);
 
 
 const xt=txt(345,1171,'',17,'middle');
 
 
 tspan(xt,'V');tspan(xt,'A',{'font-size':11,'font-style':'italic','font-family':'Liberation Serif, serif',dy:4});tspan(xt,'(km/s)',{dy:-4});
 const g=mk('g',{});
 
 
 mk('rect',{x:126,y:669,width:133,height:50,fill:'#fff',stroke:'#000','stroke-width':2.2},g);
 txt(129,690,'slope = -0.01',17,'start',g);
 const r=txt(129,712,'',17,'start',g);tspan(r,'r',{'font-style':'italic','font-family':'Liberation Serif, serif'});tspan(r,' = -0.036');
}
// ---- Time series panels ----
const TX=117,TW=1569,TXMIN=-1,TXMAX=103.06,TH=190;
function tpanel(name,top,ymin,ymax,yt,ylabels,title,ylab,ylabX,extra){
  return makeAxes(Object.assign({name:name,x:TX,y:top,w:TW,h:TH,xmin:TXMIN,xmax:TXMAX,ymin,ymax,xticks:timeTicks,xlabels:timeLabels,
    yticks:yt,ylabels:ylabels||yt.map(v=>fmtNum(v,0)),title,ylab,ylabX},extra||{}));
}
function zeroLine(ax,name){const l=mk('line',{x1:TX,x2:TX+TW,y1:ax.sy(0),y2:ax.sy(0),stroke:'#000','stroke-width':1.4,'stroke-dasharray':'9,6'},ax.plot);
  
  }
// GSE
{const ax=tpanel('magnetic-field-gse-chart',1305,-6,3,range(-6,3,1),null,'Magnetic Field (GSE Frame)','B(nT)',63);
 zeroLine(ax,'gse-zero-line');
 poly(ax,idxTime(gseBx.length),gseBx,'#ff0000','series-bx');poly(ax,idxTime(gseBy.length),gseBy,'#008000','series-by');poly(ax,idxTime(gseBz.length),gseBz,'#0000ff','series-bz');
 legend(1613,1312,72,73,[{c:'#ff0000',t:'Bx'},{c:'#008000',t:'By'},{c:'#0000ff',t:'Bz'}],'gse-legend');}
// Flux rope
{const ax=tpanel('magnetic-field-flux-rope-chart',1589,-6,8,range(-6,8,2),null,'Magnetic Field (Flux Rope Frame)','B(nT)',63);
 zeroLine(ax,'flux-rope-zero-line');
 poly(ax,idxTime(frBt.length),frBt,'#000000','series-b-total');
 poly(ax,idxTime(frBx.length),frBx,'#ff0000','series-bx-prime');
 poly(ax,idxTime(frBy.length),frBy,'#008000','series-by-prime');
 poly(ax,idxTime(frBz.length),frBz,'#0000ff','series-bz-prime');
 legend(1610,1597,75,94,[{c:'#ff0000',t:"Bx'"},{c:'#008000',t:"By'"},{c:'#0000ff',t:"Bz'"},{c:'#000000',t:'|B|'}],'flux-rope-legend');}
// PAD
function jet(f){const c=v=>Math.round(255*Math.max(0,Math.min(1,v)));return 'rgb('+c(1.5-Math.abs(4*f-3))+','+c(1.5-Math.abs(4*f-2))+','+c(1.5-Math.abs(4*f-1))+')';}
function padLevel(d){return 0.2+d*0.0675;}
{const ax=tpanel('pitch-angle-distribution-chart',1872,0,180,[0,60,120,180],null,'Suprathermal Electrons Pitch Angle Distribution (96.71eV)','pitch angle (deg)',55);
 const ncol=padSegCols.reduce((a,b)=>a+b,0)+padGapCols.reduce((a,b)=>a+b,0);
 const cw=(TXMAX-TXMIN)/ncol;
 const cells=mk('g',{},ax.plot);
 
 
 padRows.forEach((row,ri)=>{
   let col=0;
   row.forEach((seg,si)=>{
     const n=padSegCols[si];
     for(let k=0;k<n;k++){const ch=seg[k]||' ';
       if(ch!==' '){const t0=TXMIN+(col+k)*cw;
         const r=mk('rect',{x:ax.sx(t0).toFixed(1),y:ax.sy(180-ri*10).toFixed(1),width:(ax.sx(t0+cw)-ax.sx(t0)+0.6).toFixed(1),height:(ax.sy(0)-ax.sy(10)+0.6).toFixed(1),fill:jet(padLevel(+ch))},cells);
         
         }}
     col+=n+(padGapCols[si]||0);
   });
 });
 const cb=mk('g',{});
 
 
 mk('rect',{x:1692,y:1872,width:9,height:190,fill:'url(#jet)',stroke:'#000','stroke-width':2},cb);
 cbLabels.forEach((s,i)=>{const Y=1872+i*190/5;
   const t=txt(1710,Y+9,'10',19,'start',cb);tspan(t,s,{'font-size':12,dy:-11});
   
   });
}
// Solar wind velocity
{const ax=tpanel('solar-wind-velocity-chart',2156,-500,100,range(-500,100,100),null,'Solar Wind Velocity (GSE Frame)','Vsw(km/s)',43);
 poly(ax,idxTime(vx.length,2),vx,'#ff0000','series-vx');
 poly(ax,idxTime(vy.length,2),vy,'#008000','series-vy');
 poly(ax,idxTime(vz.length,2),vz,'#0000ff','series-vz');
 legend(1613,2166,72,72,[{c:'#ff0000',t:'Vx'},{c:'#008000',t:'Vy'},{c:'#0000ff',t:'Vz'}],'velocity-legend');}
// Plasma beta
{const ax=tpanel('plasma-beta-chart',2439,0,5,range(0,5,1),null,'Plasma Beta',t=>{tspan(t,'\u03b2',{'font-style':'italic','font-family':'Liberation Serif, serif'});tspan(t,'p',{'font-size':11,'font-style':'italic',dy:4});tspan(t,' and ',{dy:-4});tspan(t,'\u03b2',{'font-style':'italic','font-family':'Liberation Serif, serif'});},75);
 poly(ax,idxTime(betaTot.length),betaTot,'#008000','series-beta');
 poly(ax,idxTime(betaP.length),betaP,'#0000ff','series-beta-p');
 legend(1616,2446,69,58,[{c:'#0000ff',t:t=>{tspan(t,'\u03b2',{'font-style':'italic'});tspan(t,'p',{'font-size':10,dy:4});}},{c:'#008000',t:t=>{tspan(t,'\u03b2',{'font-style':'italic'});}}],'beta-legend');}
// Density
{const ax=tpanel('proton-density-chart',2723,0,30,range(0,30,5),null,'Proton Number Density','Np(#/cc)',69);
 poly(ax,idxTime(np.length),np,'#0000ff','series-np');}
// Temperature
{const ax=tpanel('proton-temperature-chart',3006,0,0.5,range(0,0.5,0.1),range(0,0.5,0.1).map(v=>v.toFixed(1)),
   t=>{tspan(t,'Proton Temperature and ');tspan(t,'T',{'font-style':'italic','font-family':'Liberation Serif, serif'});tspan(t,'e',{'font-size':13,'font-style':'italic',dy:5});tspan(t,'/',{dy:-5});tspan(t,'T',{'font-style':'italic','font-family':'Liberation Serif, serif'});tspan(t,'p',{'font-size':13,'font-style':'italic',dy:5});},
   t=>{tspan(t,'Tp(10');tspan(t,'6',{'font-size':11,dy:-6});tspan(t,'K)',{dy:6});},58,{noRightTicks:true});
 poly(ax,tpTime,tpVal,'#0000ff','series-tp');
 const sy2=v=>3006+TH-v/5*TH;
 const rg=mk('g',{});
 
 
 range(0,5,1).forEach(v=>{const Y=sy2(v);mk('line',{x1:TX+TW,x2:TX+TW-8,y1:Y,y2:Y,stroke:'#000','stroke-width':1.3},rg);
   const t=txt(TX+TW+7,Y+6,String(v),16,'start',rg,{fill:'#ff0000'});
   
   });
 const rl=txt(0,0,'',16,'middle',rg,{fill:'#ff0000',transform:'translate(1736,3101) rotate(-90)','font-style':'italic','font-family':'Liberation Serif, serif'});
 tspan(rl,'T');tspan(rl,'e',{'font-size':11,dy:4});tspan(rl,'/T',{dy:-4});tspan(rl,'p',{'font-size':11,dy:4});
 const pts=teTime.map((t,i)=>ax.sx(t).toFixed(1)+','+sy2(teVal[i]).toFixed(1)).join(' ');
 const pl=mk('polyline',{points:pts,fill:'none',stroke:'#ff0000','stroke-width':2.2},ax.plot);
 
 
 legend(123,3013,72,29,[{c:'#0000ff',t:'Tp'}],'tp-legend');
 legend(1595,3013,88,29,[{c:'#ff0000',t:t=>{tspan(t,'T',{'font-style':'italic'});tspan(t,'e',{'font-size':10,dy:4});tspan(t,'/',{dy:-4});tspan(t,'T',{'font-style':'italic'});tspan(t,'p',{'font-size':10,dy:4});}}],'te-tp-legend');
}
</script>
</body></html>
